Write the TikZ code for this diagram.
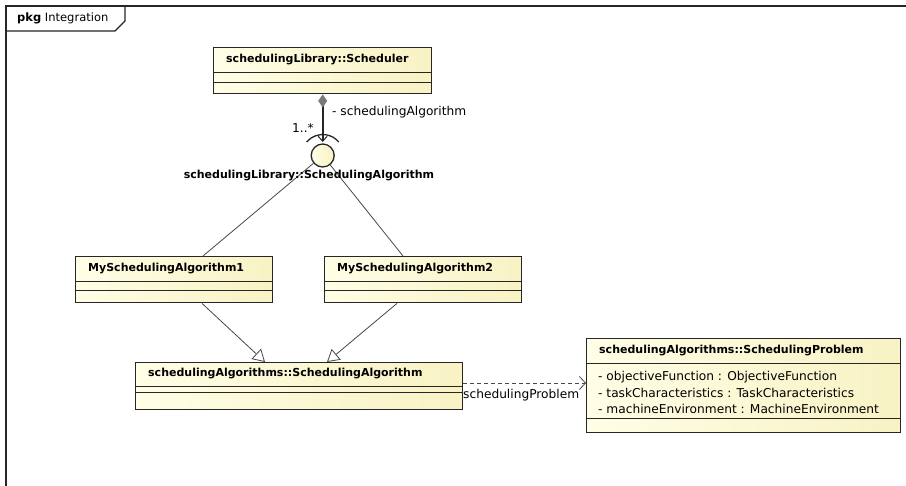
\documentclass[tikz,border=0pt]{standalone}
\usepackage{fontspec}
\setmainfont{DejaVu Sans}
\usetikzlibrary{arrows.meta,calc}

\definecolor{boxl}{HTML}{FFFEE6}
\definecolor{boxr}{HTML}{F8F2C4}
\definecolor{ink}{HTML}{262626}
\definecolor{wire}{HTML}{484848}
\definecolor{diam}{HTML}{7A7A7A}

\tikzset{
  classbox/.style={draw=ink, line width=1.4pt, rectangle, inner sep=0pt,
    left color=boxl, right color=boxr, anchor=north west},
  sepline/.style={draw=ink, line width=0.9pt},
  ctitle/.style={anchor=west, inner sep=0pt, font=\fontsize{11}{13}\selectfont\bfseries},
  cattr/.style={anchor=west, inner sep=0pt, font=\fontsize{12.2}{14}\selectfont},
  lbl/.style={inner sep=0pt, font=\fontsize{12.2}{14}\selectfont},
  wireline/.style={draw=wire, line width=0.8pt},
  gen/.style={wireline, -{Triangle[open, length=12pt, width=14pt, fill=white]}},
  dep/.style={wireline, dash pattern=on 4pt off 3pt, -{Straight Barb[length=6pt, width=13pt]}},
  comp/.style={draw=ink, line width=1.6pt,
    {Diamond[length=13pt, width=9pt, color=diam, fill=diam]}-{Straight Barb[length=5pt, width=9pt, line width=1pt]}},
  iface/.style={circle, draw=ink, line width=1.3pt, minimum size=23pt, inner sep=0pt,
    left color=boxl, right color=boxr},
}

% class box: name, NW corner, width, height, first separator, second separator, title
\newcommand\umlclass[7]{%
  \node[classbox, minimum width=#3, minimum height=#4] (#1) at #2 {};
  \draw[sepline] ($(#1.north west)+(0,-#5)$) -- ($(#1.north east)+(0,-#5)$);
  \draw[sepline] ($(#1.north west)+(0,-#6)$) -- ($(#1.north east)+(0,-#6)$);
  \node[ctitle] (#1-title) at ($(#1.north west)+(13,-#5/2)$) {#7};
}

\begin{document}
\begin{tikzpicture}[x=1pt,y=1pt]
  \clip (0,0) rectangle (906,-486);
  \fill[white] (0,0) rectangle (906,-486);

  % package frame and its tab
  \draw[draw=ink, line width=1.3pt] (6,-6) rectangle (940,-520);
  \draw[draw=ink, line width=1.1pt] (6,-31) -- (115,-31) -- (125,-21) -- (125,-6);
  \node[lbl, anchor=west, font=\fontsize{11.5}{13}\selectfont] (pkgname) at (17,-18.5) {\textbf{pkg} Integration};

  % classes
  \umlclass{sched}{(213,-47)}{218pt}{46pt}{25}{35}{schedulingLibrary::Scheduler}
  \umlclass{msa1}{(75,-256)}{197pt}{46pt}{25}{34}{MySchedulingAlgorithm1}
  \umlclass{msa2}{(324,-256)}{197pt}{46pt}{25}{34}{MySchedulingAlgorithm2}
  \umlclass{salg}{(135,-362)}{327pt}{47pt}{24}{30}{schedulingAlgorithms::SchedulingAlgorithm}
  \umlclass{sprob}{(586,-338)}{314pt}{94pt}{25}{80}{schedulingAlgorithms::SchedulingProblem}
  \node[cattr] (attr1) at (598,-377) {- objectiveFunction : ObjectiveFunction};
  \node[cattr] (attr2) at (598,-393) {- taskCharacteristics : TaskCharacteristics};
  \node[cattr] (attr3) at (598,-409) {- machineEnvironment : MachineEnvironment};

  % provided interface (lollipop)
  \node[iface] (lolli) at (322.7,-155.5) {};
  \draw[wireline] (lolli) -- ($(msa1.north west)+(128,0)$);
  \draw[wireline] (lolli) -- ($(msa2.north west)+(79,0)$);
  \node[lbl, font=\fontsize{11}{13}\selectfont\bfseries] (ifname) at (309,-175.5) {schedulingLibrary::SchedulingAlgorithm};

  % composition into the required socket
  \coordinate (sockend) at (322.7,-142);
  \draw[comp] (sched.south -| lolli) -- (sockend);
  \draw[draw=ink, line width=1.3pt] ($(lolli.center)+(140:21pt)$) arc[start angle=140, end angle=40, radius=21pt];
  \node[lbl, anchor=west] (rolename) at (332,-112) {- schedulingAlgorithm};
  \node[lbl, anchor=east] (mult) at (314,-128) {1..*};

  % generalizations
  \draw[gen] ($(msa1.south west)+(127,0)$) -- ($(salg.north west)+(130,0)$);
  \draw[gen] ($(msa2.south west)+(73,0)$) -- ($(salg.north west)+(192,0)$);

  % dependency
  \draw[dep] (salg.east |- 0,-383) -- (sprob.west |- 0,-383);
  \node[lbl, anchor=west] (deplabel) at (463,-395.5) {schedulingProblem};
\end{tikzpicture}
\end{document}
